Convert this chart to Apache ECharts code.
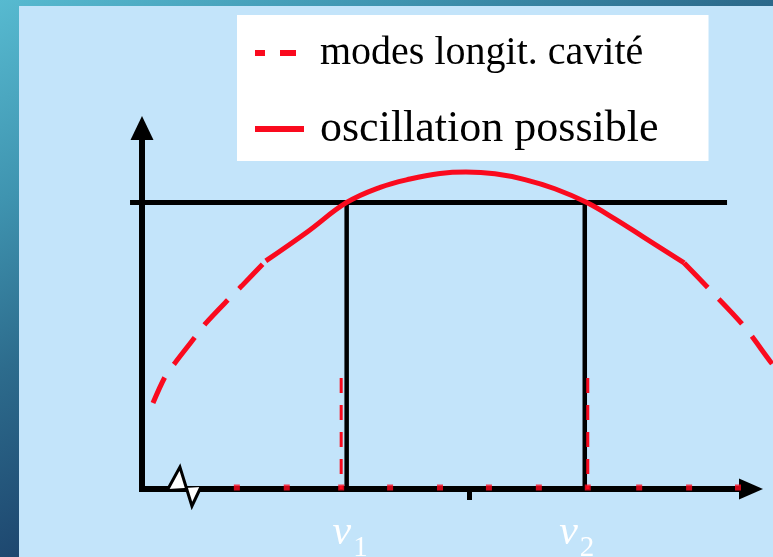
<!DOCTYPE html>
<html>
<head>
<meta charset="utf-8">
<script src="https://cdn.jsdelivr.net/npm/echarts@6/dist/echarts.min.js"></script>
<style>
  html, body { margin: 0; padding: 0; background: #ffffff; }
  #chart { width: 773px; height: 557px; }
</style>
</head>
<body>
<div id="chart"></div>
<script>
// Gain curve of the amplifying medium (x: frequency in units of the mode spacing, y: gain / losses)
const gainRisingTail = [[0.22, 0.300], [0.46, 0.391], [0.66, 0.440], [1.08, 0.534], [1.28, 0.579], [1.76, 0.667], [2.00, 0.709], [2.48, 0.796]];
const gainAboveThreshold = [[2.48, 0.796], [3.31, 0.897], [4.10, 1.0], [4.77, 1.053], [5.37, 1.082], [5.97, 1.101], [6.49, 1.106], [7.07, 1.100], [7.67, 1.080], [8.27, 1.048], [8.91, 1.0], [9.48, 0.942], [10.04, 0.880], [10.86, 0.789]];
const gainFallingTail = [[10.86, 0.789], [11.34, 0.702], [12.04, 0.572], [12.64, 0.433], [13.08, 0.339]];

// Loss level (laser threshold) and the frequencies where gain crosses it
const thresholdLevel = 1.0;
const thresholdSpan = [-0.24, 11.72];
const thresholdCrossings = [4.10, 8.87];

// Longitudinal cavity modes
const cavityModes = [1.90, 2.90, 3.99, 4.97, 5.97, 6.95, 7.95, 8.93, 9.96, 10.96, 11.94];
const edgeModes = [3.99, 8.93];
const edgeModeHeight = 0.387;

// Axis annotations
const centerFrequency = 6.55;
const nuLabelPos = [4.17, 8.71];
const nuLabelSub = ['1', '2'];
const axisBreakAt = 0.85;

const legendNames = ['modes longit. cavité', 'oscillation possible'];

// visible axes span [0, xMax] x [0, yMax]; drawing axes reach a little further on every side
const xMax = 12.2, yMax = 1.26;
const drawX = [-1, 14], drawY = [-0.3, 1.3];

const RED = '#FA0A1E';
const PLOT = { left: 142, top: 128, width: 609, height: 361 };
const pxX = PLOT.width / xMax, pxY = PLOT.height / yMax;

const chart = echarts.init(document.getElementById('chart'), null, { renderer: 'canvas' });

const onData = { xAxisIndex: 1, yAxisIndex: 1, clip: false };
const series = [];

// dashed tails of the gain curve
series.push(Object.assign({
  name: legendNames[0], type: 'line', data: gainRisingTail, smooth: 0.3, symbol: 'none', z: 6,
  itemStyle: { color: RED },
  lineStyle: { color: RED, width: 5, type: [34, 16], dashOffset: 6 }
}, onData));
series.push(Object.assign({
  name: legendNames[0], type: 'line', data: gainFallingTail, smooth: 0.3, symbol: 'none', z: 6,
  itemStyle: { color: RED },
  lineStyle: { color: RED, width: 5, type: [34, 16] }
}, onData));

// threshold line
series.push(Object.assign({
  name: 'seuil', type: 'line', symbol: 'none', z: 3,
  data: thresholdSpan.map(x => [x, thresholdLevel]),
  lineStyle: { color: '#000', width: 5 }
}, onData));
// vertical boundaries of the oscillation band
thresholdCrossings.forEach(x => {
  series.push(Object.assign({
    name: 'bande', type: 'line', symbol: 'none', z: 3,
    data: [[x, thresholdLevel], [x, 0]],
    lineStyle: { color: '#000', width: 4.5 }
  }, onData));
});

// solid part of the gain curve
series.push(Object.assign({
  name: legendNames[1], type: 'line', data: gainAboveThreshold, smooth: 0.4, symbol: 'none', z: 6,
  itemStyle: { color: RED },
  lineStyle: { color: RED, width: 5, type: 'solid' }
}, onData));

// the two edge modes drawn as dashed verticals
edgeModes.forEach(x => {
  series.push(Object.assign({
    name: legendNames[0], type: 'line', symbol: 'none', z: 4,
    data: [[x, edgeModeHeight], [x, 0]],
    itemStyle: { color: RED },
    lineStyle: { color: RED, width: 3, type: [15, 12] }
  }, onData));
});

// mode markers along the frequency axis
series.push(Object.assign({
  name: 'modes', type: 'scatter', z: 9,
  data: cavityModes.map(x => [x, 0]),
  symbol: 'rect', symbolSize: [6, 6], symbolOffset: [0, -1.5],
  itemStyle: { color: '#FF0A1E' }
}, onData));

// axis break mark near the origin
series.push(Object.assign({
  name: 'coupure', type: 'custom', coordinateSystem: 'cartesian2d', z: 8,
  data: [[axisBreakAt, 0]],
  renderItem: function (params, api) {
    const p = api.coord([api.value(0), api.value(1)]);
    const pts = [[-16.5, 0], [-4.5, -22], [7.5, 17], [16.5, -2]].map(d => [p[0] + d[0], p[1] + d[1]]);
    return {
      type: 'group',
      children: [
        { type: 'polygon', shape: { points: pts }, style: { fill: '#ffffff', stroke: null } },
        { type: 'polyline', shape: { points: pts }, style: { stroke: '#000', lineWidth: 3, fill: null, lineJoin: 'miter' } }
      ]
    };
  }
}, onData));

const option = {
  animation: false,
  graphic: [
    {
      type: 'rect', z: -20, silent: true,
      shape: { x: 0, y: 0, width: 773, height: 557 },
      style: {
        fill: {
          type: 'linear', x: 0, y: 0, x2: 400, y2: 800, global: true,
          colorStops: [
            { offset: 0, color: '#57BAD0' },
            { offset: 0.2, color: '#3F94B0' },
            { offset: 0.37, color: '#2D6C8D' },
            { offset: 0.56, color: '#1E4870' },
            { offset: 1, color: '#10284A' }
          ]
        }
      }
    },
    {
      type: 'rect', z: -19, silent: true,
      shape: { x: 19, y: 6, width: 754, height: 551 },
      style: { fill: '#C3E4FA' }
    }
  ],
  grid: [
    { left: PLOT.left, top: PLOT.top, width: PLOT.width, height: PLOT.height, outerBoundsMode: 'none', containLabel: false },
    {
      left: PLOT.left + drawX[0] * pxX, width: (drawX[1] - drawX[0]) * pxX,
      top: PLOT.top - (drawY[1] - yMax) * pxY, height: (drawY[1] - drawY[0]) * pxY,
      outerBoundsMode: 'none', containLabel: false
    }
  ],
  legend: {
    left: 237, top: 15, orient: 'vertical',
    backgroundColor: '#ffffff', borderRadius: 0,
    padding: [15, 50, 7, 15],
    itemWidth: 49, itemHeight: 8, itemGap: 28,
    selectedMode: false,
    textStyle: { fontFamily: 'Liberation Serif', fontSize: 41, color: '#000', lineHeight: 46, padding: [0, 0, 0, 11] },
    data: [
      {
        name: legendNames[0], lineStyle: { type: [16, 15], width: 6, color: RED }, itemStyle: { opacity: 0 },
        textStyle: { fontFamily: 'Liberation Serif', fontSize: 40, color: '#000', lineHeight: 46, padding: [0, 0, 0, 11] }
      },
      {
        name: legendNames[1], lineStyle: { type: 'solid', width: 6, color: RED }, itemStyle: { opacity: 0 },
        textStyle: { fontFamily: 'Liberation Serif', fontSize: 44, color: '#000', lineHeight: 46, padding: [4, 0, 0, 11] }
      }
    ]
  },
  xAxis: [
    {
      gridIndex: 0, type: 'value', min: 0, max: xMax,
      axisLine: { show: true, symbol: ['none', 'triangle'], symbolSize: [21, 24], lineStyle: { color: '#000', width: 6, cap: 'square' } },
      splitLine: { show: false },
      axisTick: { show: true, customValues: [centerFrequency], length: 11, lineStyle: { color: '#000', width: 5 } },
      axisLabel: {
        show: true, customValues: nuLabelPos, margin: 23,
        formatter: function (v) {
          const i = nuLabelPos.indexOf(v);
          return '{nu|ν}{sub|' + nuLabelSub[i] + '}';
        },
        rich: {
          nu: { fontFamily: 'Liberation Serif', fontStyle: 'italic', fontSize: 42, lineHeight: 42, color: '#ffffff' },
          sub: { fontFamily: 'Liberation Serif', fontSize: 29, lineHeight: 29, color: '#ffffff', padding: [30, 0, 0, 2] }
        }
      }
    },
    { gridIndex: 1, type: 'value', min: drawX[0], max: drawX[1], show: false, splitLine: { show: false } }
  ],
  yAxis: [
    {
      gridIndex: 0, type: 'value', min: 0, max: yMax,
      axisLine: { show: true, symbol: ['none', 'triangle'], symbolSize: [23, 24], lineStyle: { color: '#000', width: 6, cap: 'square' } },
      splitLine: { show: false },
      axisTick: { show: false },
      axisLabel: { show: false }
    },
    { gridIndex: 1, type: 'value', min: drawY[0], max: drawY[1], show: false, splitLine: { show: false } }
  ],
  series: series
};

chart.setOption(option);
</script>
</body>
</html>
